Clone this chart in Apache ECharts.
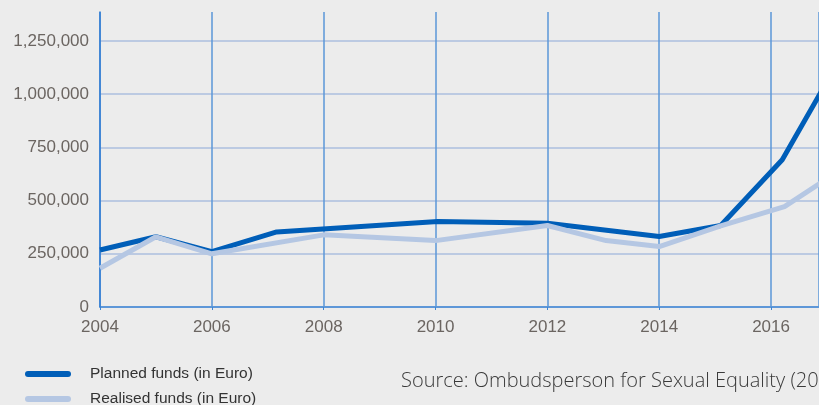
<!DOCTYPE html>
<html>
<head>
<meta charset="utf-8">
<script src="https://cdn.jsdelivr.net/npm/echarts@6/dist/echarts.min.js"></script>
<style>
html,body{margin:0;padding:0;background:#ececec;}
#chart{width:819px;height:405px;}
</style>
</head>
<body>
<div id="chart"></div>
<script>
// ---- data ----
const seriesNames = ['Planned funds (in Euro)', 'Realised funds (in Euro)'];
const plannedYears = [2004, 2005, 2006, 2007.16, 2010.04, 2012, 2014, 2015.1, 2016.2, 2017];
const plannedFunds = [268000, 330000, 260000, 353000, 402000, 394000, 331000, 383000, 692000, 1060000];
const realisedYears = [2004, 2005, 2006, 2008, 2010, 2012, 2013.05, 2014, 2015.1, 2016.24, 2017];
const realisedFunds = [182000, 330000, 250000, 339000, 312000, 383000, 312000, 284000, 381000, 472000, 602000];
const xMin = 2004, xMax = 2016.857, xStep = 2;
const yMin = 0, yMax = 1250000, yStep = 250000;
const sourceText = 'Source: Ombudsperson for Sexual Equality (2017)';

const pair = (xs, ys) => xs.map((x, i) => [x, ys[i]]);
const fmt = v => String(v).replace(/\B(?=(\d{3})+(?!\d))/g, ',');

const blue = '#3f86d5';
const legendBase = (name, top) => ({
  orient: 'vertical', left: 25, top: top, padding: 0,
  itemWidth: 40, itemHeight: 6,
  lineStyle: {width: 6, cap: 'round'},
  data: [name],
  textStyle: {fontFamily: 'Liberation Sans Narrow, Arial Narrow, sans-serif', fontSize: 15.5, lineHeight: 14,
    color: '#333333', padding: [0, 0, 0, 17]}
});
const chart = echarts.init(document.getElementById('chart'), null, {renderer: 'canvas'});
chart.setOption({
  backgroundColor: '#ececec',
  animation: false,
  grid: [
    {left: 100, right: -1, top: 12, bottom: 98},
    {left: 100, right: -1, top: 41, bottom: 98}
  ],
  xAxis: [
    {gridIndex: 0, type: 'value', min: xMin, max: xMax, interval: xStep, z: 1,
     axisLine: {show: false}, axisTick: {show: false}, axisLabel: {show: false},
     splitLine: {show: true, lineStyle: {color: '#5b97d8', width: 1.5}}},
    {gridIndex: 1, type: 'value', min: xMin, max: xMax, interval: xStep,
     axisLine: {show: true, lineStyle: {color: blue, width: 1.5}},
     axisTick: {show: true, length: 3, lineStyle: {color: blue}},
     axisLabel: {show: true, margin: 12, showMaxLabel: false, color: '#6b6561',
       fontFamily: 'Liberation Sans, Arial, sans-serif', fontSize: 17,
       formatter: v => String(Math.round(v))},
     splitLine: {show: false}}
  ],
  yAxis: [
    {gridIndex: 0, type: 'value', min: 0, max: 1, z: 1,
     axisLine: {show: true, lineStyle: {color: '#2f7bd2', width: 1.5}},
     axisTick: {show: false}, axisLabel: {show: false}, splitLine: {show: false}},
    {gridIndex: 1, type: 'value', min: yMin, max: yMax, interval: yStep,
     axisLine: {show: false}, axisTick: {show: false},
     axisLabel: {margin: 11, color: '#6b6561', fontFamily: 'Liberation Sans, Arial, sans-serif', fontSize: 17,
       formatter: v => fmt(v)},
     splitLine: {show: true, lineStyle: {color: '#bccae2', width: 2}}}
  ],
  legend: [legendBase(seriesNames[0], 366), legendBase(seriesNames[1], 391)],
  graphic: [
    {type: 'text', left: 401, top: 371, silent: true,
     style: {text: sourceText, font: '300 20px "Open Sans", "Noto Sans", sans-serif', fill: '#3a3a3a'}}
  ],
  series: [
    {name: seriesNames[0], type: 'line', xAxisIndex: 1, yAxisIndex: 1, data: pair(plannedYears, plannedFunds),
     symbol: 'none', lineStyle: {color: '#005eb8', width: 5}, itemStyle: {color: '#005eb8'}, z: 3},
    {name: seriesNames[1], type: 'line', xAxisIndex: 1, yAxisIndex: 1, data: pair(realisedYears, realisedFunds),
     symbol: 'none', lineStyle: {color: '#b5c7e3', width: 5}, itemStyle: {color: '#b5c7e3'}, z: 4}
  ]
});
</script>
</body>
</html>
